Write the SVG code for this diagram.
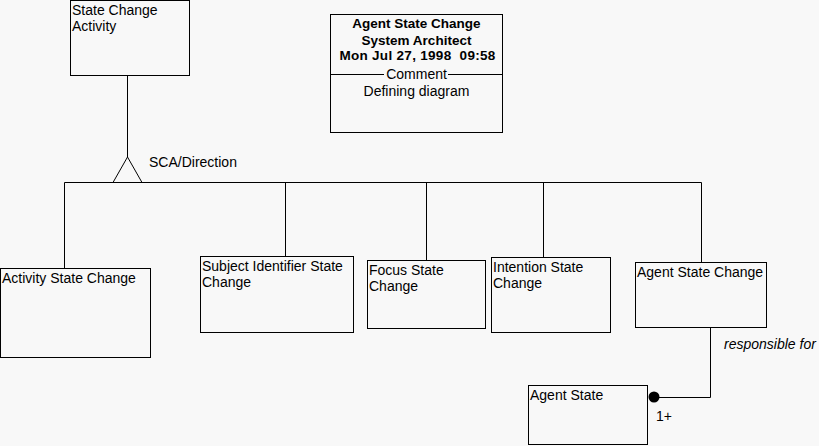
<svg xmlns="http://www.w3.org/2000/svg" width="819" height="446" viewBox="0 0 819 446">
<style>
.box{fill:#f8f8f8;stroke:#000;stroke-width:1}
.ln{fill:none;stroke:#000;stroke-width:1}
text{font-family:"Liberation Sans",Arial,sans-serif;font-size:14px;fill:#000}
.b{font-weight:bold;font-size:13.5px}
.i{font-style:italic}
</style>
<rect width="819" height="446" fill="#f8f8f8"/>
<g id="connectors">
<path class="ln" d="M127.5,75.5 V157"/>
<path class="ln" d="M127.5,157 L113,182.5 M127.5,157 L142,182.5"/>
<path class="ln" d="M64.5,182.5 H701.5"/>
<path class="ln" d="M64.5,182.5 V268.5 M285.5,182.5 V256.5 M426.5,182.5 V260.5 M543.5,182.5 V257.5 M701.5,182.5 V262.5"/>
<path class="ln" d="M710.5,327.5 V397.5 H654"/>
<circle cx="654" cy="397" r="5.5" fill="#000"/>
<text x="149" y="167">SCA/Direction</text>
<text class="i" x="724" y="349">responsible for</text>
<text x="656" y="421">1+</text>
</g>
<g id="state-change-activity">
<rect class="box" x="70.5" y="0.5" width="119" height="75"/>
<text x="72" y="15">State Change</text>
<text x="72" y="31">Activity</text>
</g>
<g id="comment">
<rect class="box" x="330.5" y="14.5" width="172" height="118"/>
<text class="b" x="416.5" y="28" text-anchor="middle">Agent State Change</text>
<text class="b" x="416.5" y="44.5" text-anchor="middle">System Architect</text>
<text class="b" x="417.5" y="60" text-anchor="middle" letter-spacing="0.3" xml:space="preserve">Mon Jul 27, 1998  09:58</text>
<path class="ln" d="M331,74.5 H384 M448,74.5 H502"/>
<text x="416.5" y="79" text-anchor="middle">Comment</text>
<text x="416.5" y="96" text-anchor="middle">Defining diagram</text>
</g>
<g id="activity-state-change">
<rect class="box" x="0.5" y="268.5" width="150" height="89"/>
<text x="2" y="283">Activity State Change</text>
</g>
<g id="subject-identifier-state-change">
<rect class="box" x="200.5" y="256.5" width="153" height="76"/>
<text x="202" y="271">Subject Identifier State</text>
<text x="202" y="287">Change</text>
</g>
<g id="focus-state-change">
<rect class="box" x="367.5" y="260.5" width="118" height="68"/>
<text x="369" y="275">Focus State</text>
<text x="369" y="291">Change</text>
</g>
<g id="intention-state-change">
<rect class="box" x="491.5" y="257.5" width="119" height="75"/>
<text x="493" y="272">Intention State</text>
<text x="493" y="288">Change</text>
</g>
<g id="agent-state-change">
<rect class="box" x="635.5" y="262.5" width="131" height="65"/>
<text x="637" y="277">Agent State Change</text>
</g>
<g id="agent-state">
<rect class="box" x="528.5" y="385.5" width="119" height="59"/>
<text x="530" y="400">Agent State</text>
</g>
</svg>
